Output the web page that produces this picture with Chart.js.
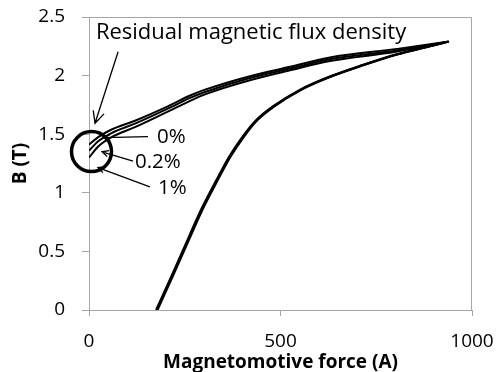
<!DOCTYPE html>
<html>
<head>
<meta charset="utf-8">
<script src="https://cdn.jsdelivr.net/npm/chart.js@4/dist/chart.umd.min.js"></script>
<style>
  html, body { margin: 0; padding: 0; background: #fff; }
  #wrap { width: 499px; height: 372px; }
</style>
</head>
<body>
<div id="wrap"><canvas id="chart" width="499" height="372"></canvas></div>
<script>
const xTicks = [0, 500, 1000];
const yTicks = [0, 0.5, 1, 1.5, 2, 2.5];
const seriesNames = ['0%', '0.2%', '1%'];

// rising branch (from B = 0 up to the tip)
const up0X = [179, 222, 264, 297, 335, 370, 405, 440, 483, 553, 631, 718, 805, 891, 940];
const up0Y = [0, 0.31, 0.62, 0.86, 1.1, 1.31, 1.48, 1.62, 1.735, 1.877, 1.99, 2.09, 2.18, 2.25, 2.29];
const up1X = [177, 220, 262, 295, 333, 368, 403, 438, 481, 551, 629, 716, 803, 890, 938];
const up1Y = [0, 0.31, 0.62, 0.86, 1.1, 1.31, 1.48, 1.62, 1.735, 1.877, 1.99, 2.09, 2.18, 2.25, 2.29];
const up2X = [175, 218, 260, 293, 331, 366, 401, 436, 479, 549, 627, 714, 801, 888, 936];
const up2Y = [0, 0.31, 0.62, 0.86, 1.1, 1.31, 1.48, 1.62, 1.735, 1.877, 1.99, 2.09, 2.18, 2.25, 2.29];

// falling branch (listed from zero force out to the tip)
const down0X = [0, 24, 59, 120, 207, 264, 303, 420, 525, 629, 805, 940];
const down0Y = [1.41, 1.475, 1.54, 1.615, 1.74, 1.83, 1.88, 1.995, 2.075, 2.155, 2.228, 2.29];
const down1X = [0, 24, 59, 120, 207, 264, 303, 420, 525, 629, 803, 938];
const down1Y = [1.36, 1.44, 1.51, 1.59, 1.72, 1.81, 1.86, 1.98, 2.06, 2.14, 2.215, 2.29];
const down2X = [0, 24, 59, 120, 207, 264, 303, 420, 525, 629, 801, 936];
const down2Y = [1.3, 1.395, 1.475, 1.56, 1.695, 1.785, 1.84, 1.96, 2.045, 2.125, 2.203, 2.29];

const branches = [
  [up0X, up0Y], [down0X, down0Y],
  [up1X, up1Y], [down1X, down1Y],
  [up2X, up2Y], [down2X, down2Y],
];

// annotation anchors, in data units
const noteText = 'Residual magnetic flux density';
const noteAt = [18, 2.37];
const arrowFrom = [76, 2.204];
const arrowTo = [15.7, 1.593];
const ringAt = [6.5, 1.352];
const labelAt = [[177.5, 1.479], [120, 1.265], [180, 1.041]];
const leaderFrom = [[154, 1.479], [115, 1.27], [159, 1.05]];
const leaderTo = [[39, 1.47], [34, 1.35], [23.5, 1.215]];

const FONT = "'Open Sans', 'DejaVu Sans', sans-serif";
const GREY = '#a6a6a6';

const datasets = branches.map(([xs, ys], i) => ({
  label: seriesNames[Math.floor(i / 2)],
  data: xs.map((x, j) => ({ x, y: ys[j] })),
  showLine: true,
  borderColor: '#000',
  borderWidth: 2,
  pointRadius: 0,
  cubicInterpolationMode: 'monotone',
  fill: false,
}));

function arrow(ctx, x1, y1, x2, y2, head) {
  ctx.beginPath();
  ctx.moveTo(x1, y1);
  ctx.lineTo(x2, y2);
  const a = Math.atan2(y2 - y1, x2 - x1);
  ctx.moveTo(x2 - head * Math.cos(a - 0.45), y2 - head * Math.sin(a - 0.45));
  ctx.lineTo(x2, y2);
  ctx.lineTo(x2 - head * Math.cos(a + 0.45), y2 - head * Math.sin(a + 0.45));
  ctx.stroke();
}

const notes = {
  id: 'notes',
  beforeDatasetsDraw(chart) {
    const { ctx, chartArea: a } = chart;
    ctx.save();
    ctx.strokeStyle = GREY;
    ctx.lineWidth = 1;
    ctx.beginPath();
    ctx.moveTo(a.left, a.top + 0.5);
    ctx.lineTo(a.right - 0.5, a.top + 0.5);
    ctx.lineTo(a.right - 0.5, a.bottom);
    ctx.stroke();
    ctx.restore();
  },
  afterDraw(chart) {
    const { ctx, scales: { x, y } } = chart;
    const px = p => [x.getPixelForValue(p[0]), y.getPixelForValue(p[1])];
    ctx.save();
    ctx.fillStyle = '#000';
    ctx.strokeStyle = '#000';
    ctx.textBaseline = 'middle';
    ctx.textAlign = 'left';
    ctx.font = `22px ${FONT}`;
    const [nx, ny] = px(noteAt);
    ctx.fillText(noteText, nx, ny);

    ctx.lineWidth = 1.3;
    const [ax1, ay1] = px(arrowFrom);
    const [ax2, ay2] = px(arrowTo);
    arrow(ctx, ax1, ay1, ax2, ay2, 13);

    ctx.font = `20.5px ${FONT}`;
    seriesNames.forEach((name, i) => {
      const [lx1, ly1] = px(leaderFrom[i]);
      const [lx2, ly2] = px(leaderTo[i]);
      arrow(ctx, lx1, ly1, lx2, ly2, 7);
      const [tx, ty] = px(labelAt[i]);
      ctx.fillText(name, tx, ty);
    });

    const [cx, cy] = px(ringAt);
    ctx.lineWidth = 3.5;
    ctx.beginPath();
    ctx.arc(cx, cy, 20, 0, Math.PI * 2);
    ctx.stroke();
    ctx.restore();
  }
};

new Chart(document.getElementById('chart'), {
  type: 'scatter',
  data: { datasets },
  options: {
    responsive: false,
    animation: false,
    layout: { padding: { top: 17, right: 27, left: 0, bottom: 0 } },
    plugins: { legend: { display: false }, tooltip: { enabled: false } },
    scales: {
      x: {
        type: 'linear', min: 0, max: 1000,
        afterBuildTicks: s => { s.ticks = xTicks.map(v => ({ value: v })); },
        afterFit: s => { s.height = 62; s.paddingLeft = 0; s.paddingRight = 0; },
        grid: { drawOnChartArea: false, tickLength: 6, color: GREY },
        border: { color: GREY },
        ticks: { padding: 14, color: '#000', maxRotation: 0, font: { family: FONT, size: 19 },
                 callback: v => String(v) },
        title: { display: true, text: 'Magnetomotive force (A)', color: '#000', padding: 0,
                 font: { family: FONT, size: 19, weight: 'bold', lineHeight: 1 } },
      },
      y: {
        type: 'linear', min: 0, max: 2.5,
        afterBuildTicks: s => { s.ticks = yTicks.map(v => ({ value: v })); },
        afterFit: s => { s.width = 89; s.paddingTop = 0; s.paddingBottom = 0; },
        grid: { drawOnChartArea: false, tickLength: 7, color: GREY },
        border: { color: GREY },
        ticks: { padding: 17, color: '#000', font: { family: FONT, size: 19 },
                 callback: v => String(v) },
        title: { display: true, text: 'B (T)', color: '#000', padding: { top: 9, bottom: 0 },
                 font: { family: FONT, size: 19, weight: 'bold' } },
      },
    },
  },
  plugins: [notes],
});
</script>
</body>
</html>
